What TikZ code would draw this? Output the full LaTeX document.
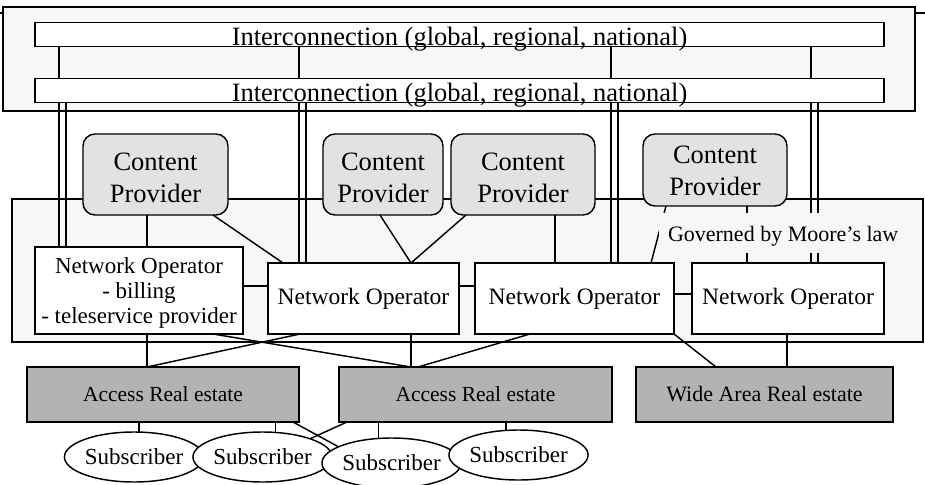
\documentclass[tikz,border=0pt]{standalone}
\usepackage{fontspec}
\setmainfont{Liberation Serif}
\usetikzlibrary{shapes.geometric}
\definecolor{panel}{HTML}{F7F7F7}
\definecolor{cpfill}{HTML}{E2E2E2}
\definecolor{estatefill}{HTML}{B3B3B3}
% centred multi-line text whose reference baseline is the first line
\newcommand{\linesof}[1]{\begin{tabular}[t]{@{}c@{}}#1\end{tabular}}

\begin{document}
\begin{tikzpicture}[x=1pt, y=-1pt, line width=1.45pt,
  every node/.style={inner sep=0pt, outer sep=0pt},
  panelbox/.style={draw, fill=panel},
  bar/.style={draw, fill=white, minimum width=849pt, text height=23pt, text depth=1pt,
    font=\fontsize{26.5}{30}\selectfont},
  provider/.style={draw, fill=cpfill, rounded corners=12pt, text height=20pt,
    font=\fontsize{26.5}{32.5}\selectfont},
  operator/.style={draw, fill=white, minimum height=71pt, font=\fontsize{23.5}{25}\selectfont},
  estate/.style={draw, fill=estatefill, minimum height=55pt, font=\fontsize{21.5}{25}\selectfont},
  subscriber/.style={draw, ellipse, fill=white, minimum width=121pt, minimum height=50pt,
    font=\fontsize{23}{25}\selectfont},
  note/.style={fill=panel, anchor=west, inner xsep=9pt, inner ysep=2.5pt,
    text height=26pt, text depth=9pt, font=\fontsize{22}{25}\selectfont}
]
\useasboundingbox (0,0) rectangle (925,484);

% column and row positions used by the connectors
\foreach \cx in {59,66,299,306,611,618,811,818,147,213,283,300,380,411,418,466,530,555,651,666,716,747,787,293,347}
  \coordinate (x\cx) at (\cx,0);
\coordinate (y286) at (0,286);
\coordinate (y294) at (0,294);

% outer frame line and interconnection panel
\draw (0,13) -- (925,13);
\node[panelbox, minimum width=912pt, minimum height=104pt] (frame) at (459,59) {};
\node[bar] (bar1) at (459.5,34.7) {Interconnection (global, regional, national)};
\node[bar] (bar2) at (459.5,90.7) {Interconnection (global, regional, national)};
\foreach \k in {59,299,611,811}
  \draw (bar1.south -| x\k) -- (bar2.north -| x\k);

% operator field
\node[panelbox, minimum width=911pt, minimum height=143pt] (field) at (467.5,270.5) {};

% content providers
\node[provider, minimum width=145pt, minimum height=81pt, text depth=29pt] (cp1) at (155.5,174.5) {\linesof{Content\\Provider}};
\node[provider, minimum width=120pt, minimum height=81pt, text depth=29pt] (cp2) at (383,174.5) {\linesof{Content\\Provider}};
\node[provider, minimum width=144pt, minimum height=81pt, text depth=29pt] (cp3) at (523,174.5) {\linesof{Content\\Provider}};
\node[provider, minimum width=144pt, minimum height=72pt, text depth=34pt] (cp4) at (715,170) {\linesof{Content\\Provider}};

% network operators
\node[operator, minimum width=208pt, minimum height=87pt, text height=10pt, text depth=45pt,
  font=\fontsize{23}{25}\selectfont] (no1) at (139,290.5)
  {\linesof{Network Operator\\- billing\\- teleservice provider}};
\node[operator, minimum width=191pt] (no2) at (363.5,298.5) {Network Operator};
\node[operator, minimum width=199pt] (no3) at (574.5,298.5) {Network Operator};
\node[operator, minimum width=192pt] (no4) at (788,298.5) {Network Operator};

% double links from the interconnection down to the operators
\foreach \a/\b/\n in {59/66/no1, 299/306/no2, 611/618/no3, 811/818/no4} {
  \draw (bar2.south -| x\a) -- (\n.north -| x\a);
  \draw (bar2.south -| x\b) -- (\n.north -| x\b);
}

% providers to operators
\draw (cp1.south -| x147) -- (no1.north -| x147);
\draw (cp1.south -| x213) -- (no2.north -| x283);
\draw (cp2.south -| x380) -- (no2.north -| x411);
\draw (cp3.south -| x466) -- (no2.north -| x411);
\draw (cp3.south -| x555) -- (no3.north -| x555);
\draw (cp4.south -| x666) -- (no3.north -| x651);
\draw (cp4.south -| x747) -- (no4.north -| x747);

\node[note] (moore) at (659,233) {Governed by Moore's law};

% operator to operator
\draw (no1.east |- y286) -- (no2.west |- y286);
\draw (no2.east |- y286) -- (no3.west |- y286);
\draw (no3.east |- y294) -- (no4.west |- y294);

% real estate
\node[estate, minimum width=272pt] (are1) at (163,394.5) {Access Real estate};
\node[estate, minimum width=273pt] (are2) at (475.5,394.5) {Access Real estate};
\node[estate, minimum width=257pt, font=\fontsize{22}{25}\selectfont] (wide) at (764.5,394.5) {Wide Area Real estate};

\draw (no1.south -| x147) -- (are1.north -| x147);
\draw (no1.south -| x213) -- (are2.north -| x411);
\draw (no2.south -| x300) -- (are1.north -| x147);
\draw (no2.south -| x411) -- (are2.north -| x411);
\draw (no3.south -| x530) -- (are2.north -| x418);
\draw (no3.south east) -- (wide.north -| x716);
\draw (no4.south -| x787) -- (wide.north -| x787);

% subscribers
\node[subscriber] (s1) at (134,457) {Subscriber};
\node[subscriber] (s2) at (262.5,457) {Subscriber};
\node[subscriber] (s3) at (391.5,463) {Subscriber};
\node[subscriber] (s4) at (518.5,455) {Subscriber};

\draw (s1.79 |- are1.south) -- (s1.79);
\draw (s2.62 |- are1.south) -- (s2.62);
\draw (are1.south -| x293) -- (s3.163);
\draw (are2.south -| x347) -- (s2.21);
\draw (s3.118 |- are2.south) -- (s3.118);
\draw (s4.117 |- are2.south) -- (s4.117);
\end{tikzpicture}
\end{document}
